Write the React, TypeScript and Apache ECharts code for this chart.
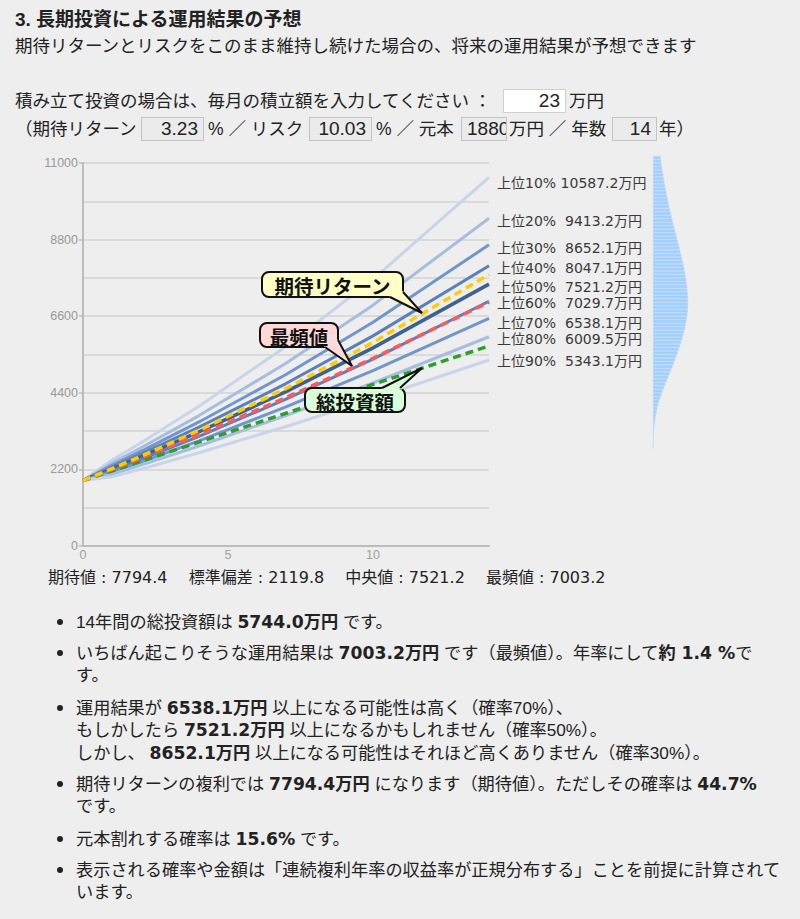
import React, { useEffect, useRef } from 'react';
import * as echarts from 'echarts';

// ---------- data ----------
const years = [0, 1, 2, 4, 7, 10, 14];
const pctNames = ['上位10%', '上位20%', '上位30%', '上位40%', '上位50%', '上位60%', '上位70%', '上位80%', '上位90%'];
const pctFinalText = ['10587.2', '9413.2', '8652.1', '8047.1', '7521.2', '7029.7', '6538.1', '6009.5', '5343.1'];
const p10 = [1880, 2470, 2967, 4016, 5731, 7660, 10587.2];
const p20 = [1880, 2379, 2820, 3746, 5248, 6917, 9413.2];
const p30 = [1880, 2316, 2719, 3563, 4926, 6426, 8652.1];
const p40 = [1880, 2263, 2636, 3414, 4666, 6034, 8047.1];
const p50 = [1880, 2215, 2560, 3280, 4435, 5690, 7521.2];
const p60 = [1880, 2168, 2487, 3151, 4216, 5366, 7029.7];
const p70 = [1880, 2118, 2410, 3019, 3993, 5038, 6538.1];
const p80 = [1880, 2062, 2324, 2872, 3748, 4681, 6009.5];
const p90 = [1880, 1986, 2209, 2679, 3432, 4227, 5343.1];
const expectedLine = [1880, 2223, 2577, 3321, 4525, 5845, 7794.4];
const modeLine = [1880, 2199, 2526, 3199, 4261, 5392, 7003.2];
const investedLine = [1880, 2156, 2432, 2984, 3812, 4640, 5744];

const distBins = [
  2850, 2950, 3050, 3150, 3250, 3350, 3450, 3550, 3650, 3750, 3850, 3950, 4050, 4150, 4250, 4350,
  4450, 4550, 4650, 4750, 4850, 4950, 5050, 5150, 5250, 5350, 5450, 5550, 5650, 5750, 5850, 5950,
  6050, 6150, 6250, 6350, 6450, 6550, 6650, 6750, 6850, 6950, 7050, 7150, 7250, 7350, 7450, 7550,
  7650, 7750, 7850, 7950, 8050, 8150, 8250, 8350, 8450, 8550, 8650, 8750, 8850, 8950, 9050, 9150,
  9250, 9350, 9450, 9550, 9650, 9750, 9850, 9950, 10050, 10150, 10250, 10350, 10450, 10550, 10650,
  10750, 10850, 10950, 11050, 11150,
];
const distDensity = [
  0.2, 0.3, 0.4, 0.6, 0.8, 1.0, 1.4, 1.9, 2.4, 3.0, 3.6, 4.2, 5.1, 6.1, 7.2, 8.4,
  9.7, 11.0, 12.4, 13.8, 15.2, 16.6, 18.0, 19.4, 20.7, 22.0, 23.3, 24.6, 25.8, 27.0, 28.1, 29.2,
  30.2, 31.1, 32.0, 32.7, 33.4, 33.9, 34.4, 34.7, 34.9, 35.0, 35.0, 34.9, 34.7, 34.4, 34.1, 33.6,
  33.1, 32.6, 32.0, 31.3, 30.6, 29.8, 29.0, 28.2, 27.3, 26.5, 25.6, 24.7, 23.8, 23.0, 22.1, 21.2,
  20.3, 19.5, 18.6, 17.8, 17.0, 16.2, 15.5, 14.7, 14.0, 13.3, 12.7, 12.0, 11.4, 10.8, 10.2,
  9.7, 9.1, 8.6, 8.1, 7.7,
];

const yTicks = { min: 0, max: 11000, interval: 2200 };
const xTicks = { min: 0, max: 14, interval: 5 };

const pctSeries = [p10, p20, p30, p40, p50, p60, p70, p80, p90];
const pctColors = ['#c7d5ea', '#a7bde0', '#7096cb', '#5a80bb', '#3d6292', '#5a80bb', '#7096cb', '#a7bde0', '#c7d5ea'];
const labelDy = [6, 2.5, 3.5, 2.5, 2.5, 2, 4.5, 2, 1.5];

const CHART_TOP = 140;

function zip(vals: number[]) {
  return years.map((y, i) => [y, vals[i]]);
}

function callout(
  box: { x: number; y: number; w: number; h: number },
  tail: number[][],
  fillTail: number[][],
  text: string,
  fill: string
) {
  return {
    type: 'group',
    z: 100,
    children: [
      {
        type: 'rect',
        shape: { x: box.x, y: box.y, width: box.w, height: box.h, r: 7 },
        style: { fill, stroke: '#111', lineWidth: 2 },
        z: 100,
      },
      { type: 'polygon', shape: { points: fillTail }, style: { fill, stroke: null }, z: 101 },
      { type: 'polyline', shape: { points: tail }, style: { stroke: '#111', lineWidth: 2, fill: null }, z: 102 },
      {
        type: 'text',
        x: box.x + box.w / 2,
        y: box.y + box.h / 2 + 1,
        z: 103,
        style: {
          text,
          fill: '#111',
          fontSize: 19.5,
          fontWeight: 'bold',
          fontFamily: '"Noto Sans CJK JP"',
          align: 'center',
          verticalAlign: 'middle',
        },
      },
    ],
  };
}

function Chart() {
  const ref = useRef<HTMLDivElement>(null);
  useEffect(() => {
    if (!ref.current) return;
    const chart = echarts.init(ref.current, null, { renderer: 'svg' });
    const gridLine = { color: '#d3d3d3', width: 1.5 };
    const series: any[] = pctSeries.map((vals, i) => ({
      type: 'line',
      name: pctNames[i],
      data: zip(vals),
      xAxisIndex: 0,
      yAxisIndex: 0,
      showSymbol: false,
      symbol: 'none',
      lineStyle: { color: pctColors[i], width: i === 4 ? 3.5 : 3 },
      z: 2,
      endLabel: {
        show: true,
        formatter: pctNames[i] + (i === 0 ? ' ' : '  ') + pctFinalText[i] + '万円',
        color: '#3a3a3a',
        fontSize: 14,
        fontFamily: '"DejaVu Sans", "Noto Sans CJK JP"',
        distance: 8,
        offset: [0, labelDy[i]],
      },
    }));
    const dashed = [
      { vals: investedLine, color: '#2ca02c' },
      { vals: modeLine, color: '#ff5a5a' },
      { vals: expectedLine, color: '#ffcc00' },
    ];
    dashed.forEach((d) =>
      series.push({
        type: 'line',
        data: zip(d.vals),
        showSymbol: false,
        symbol: 'none',
        lineStyle: { color: d.color, width: 3.5, type: [8, 5] },
        z: 3,
      })
    );
    series.push({
      type: 'bar',
      xAxisIndex: 1,
      yAxisIndex: 1,
      data: distDensity,
      barCategoryGap: '0%',
      itemStyle: { color: '#a3cffb', borderColor: '#b8dbfc', borderWidth: 0.5 },
    });

    chart.setOption({
      animation: false,
      backgroundColor: 'transparent',
      grid: [
        { left: 83, top: 23, width: 406, height: 383 },
        { left: 653, top: 16.04, width: 35, height: 292.46 },
      ],
      xAxis: [
        {
          type: 'value',
          gridIndex: 0,
          min: xTicks.min,
          max: xTicks.max,
          interval: xTicks.interval,
          axisLine: { show: true, lineStyle: { color: '#bcbcbc', width: 2 } },
          axisTick: { show: false },
          axisLabel: { color: '#a0a0a0', fontSize: 12.5, margin: 2, showMaxLabel: false, fontFamily: '"Liberation Sans"' },
          splitLine: { show: false },
        },
        { type: 'value', gridIndex: 1, min: 0, max: 35, show: false },
      ],
      yAxis: [
        {
          type: 'value',
          gridIndex: 0,
          min: yTicks.min,
          max: yTicks.max,
          interval: yTicks.interval,
          axisLine: { show: true, lineStyle: { color: '#bcbcbc', width: 2 } },
          axisTick: { show: true, length: 4, lineStyle: { color: '#bcbcbc', width: 1.5 } },
          axisLabel: {
            color: '#999',
            fontSize: 12.5,
            margin: 5,
            fontFamily: '"Liberation Sans"',
            formatter: (v: number) => String(v),
          },
          splitLine: { show: true, lineStyle: gridLine },
          minorTick: { show: false, splitNumber: 2 },
          minorSplitLine: { show: true, lineStyle: gridLine },
        },
        { type: 'category', gridIndex: 1, data: distBins, show: false },
      ],
      series,
      graphic: [
        callout(
          { x: 262, y: 132, w: 141, h: 25 },
          [[390, 157], [422, 173], [403, 152]],
          [[388, 155.5], [422, 173], [401.5, 150]],
          '期待リターン',
          '#ffffc6'
        ),
        callout(
          { x: 260, y: 183, w: 78, h: 24 },
          [[325, 207], [352, 226], [338, 200]],
          [[323, 205.5], [352, 226], [336.5, 198]],
          '最頻値',
          '#ffd8d8'
        ),
        callout(
          { x: 305, y: 248, w: 100, h: 24 },
          [[382, 248], [422, 228], [400, 248]],
          [[380, 249.5], [422, 228], [402, 249.5]],
          '総投資額',
          '#d8fdd8'
        ),
      ],
    });
    return () => chart.dispose();
  }, []);
  return (
    <div
      ref={ref}
      style={{ position: 'absolute', left: 0, top: CHART_TOP, width: 720, height: 430 }}
    />
  );
}

const BODY_FONT = '"Liberation Sans", "Noto Sans CJK JP", sans-serif';
const BOLD_FONT = '"DejaVu Sans", "Noto Sans CJK JP", sans-serif';

function T(props: { x: number; cy: number; size?: number; lh?: number; style?: any; children: any }) {
  const size = props.size ?? 17.5;
  const lh = props.lh ?? 24;
  return (
    <div
      style={{
        position: 'absolute',
        left: props.x,
        top: props.cy - lh / 2,
        fontSize: size,
        lineHeight: lh + 'px',
        whiteSpace: 'pre',
        color: '#222',
        fontFamily: BODY_FONT,
        ...props.style,
      }}
    >
      {props.children}
    </div>
  );
}

function Box(props: { x: number; y: number; w: number; text: string; white?: boolean }) {
  return (
    <div
      style={{
        position: 'absolute',
        left: props.x,
        top: props.y,
        width: props.w,
        height: 24,
        boxSizing: 'border-box',
        border: '1px solid ' + (props.white ? '#d0d0d0' : '#c4c4c4'),
        background: props.white ? '#ffffff' : '#ebebeb',
        overflow: 'hidden',
        textAlign: 'right',
        paddingRight: 5,
        paddingLeft: 5,
        fontFamily: '"Liberation Sans Narrow", "Liberation Sans", sans-serif',
        fontSize: 19,
        lineHeight: '22px',
        color: '#222',
        whiteSpace: 'nowrap',
      }}
    >
      {props.text}
    </div>
  );
}

function B(props: { children: any }) {
  return <span style={{ fontWeight: 'bold', fontFamily: BOLD_FONT }}>{props.children}</span>;
}

function Bullet(props: { cy: number; lines: any[] }) {
  const lh = 22.5;
  return (
    <>
      <div
        style={{
          position: 'absolute',
          left: 57,
          top: props.cy - 3,
          width: 6,
          height: 6,
          borderRadius: 3,
          background: '#222',
        }}
      />
      <div
        style={{
          position: 'absolute',
          left: 76,
          top: props.cy - lh / 2,
          fontSize: 17.2,
          lineHeight: lh + 'px',
          whiteSpace: 'pre',
          color: '#222',
          fontFamily: BODY_FONT,
        }}
      >
        {props.lines.map((l, i) => (
          <div key={i}>{l}</div>
        ))}
      </div>
    </>
  );
}

export default function App() {
  return (
    <div
      style={{
        position: 'fixed',
        left: 0,
        top: 0,
        width: 800,
        height: 919,
        background: '#eeeeee',
        overflow: 'hidden',
      }}
    >
      <T x={15} cy={20} size={19} style={{ fontWeight: 'bold' }}>
        3. 長期投資による運用結果の予想
      </T>
      <T x={15} cy={46}>期待リターンとリスクをこのまま維持し続けた場合の、将来の運用結果が予想できます</T>
      <T x={15} cy={101}>積み立て投資の場合は、毎月の積立額を入力してください ：</T>
      <Box x={503} y={89} w={63} text="23" white />
      <T x={569} cy={101}>万円</T>
      <T x={15} cy={129}>（期待リターン</T>
      <Box x={141} y={117} w={63} text="3.23" />
      <T x={208} cy={129}>% ／ リスク</T>
      <Box x={309} y={117} w={63} text="10.03" />
      <T x={376} cy={129}>% ／ 元本</T>
      <Box x={461} y={117} w={46} text="1880" />
      <T x={509} cy={129}>万円 ／ 年数</T>
      <Box x={612} y={117} w={45} text="14" />
      <T x={659} cy={129}>年）</T>

      <Chart />

      <T x={48} cy={578} size={16} style={{ fontFamily: BOLD_FONT }}>
        {'期待値 : 7794.4　 標準偏差 : 2119.8　 中央値 : 7521.2　 最頻値 : 7003.2'}
      </T>

      <Bullet cy={622} lines={[<>14年間の総投資額は <B>5744.0万円</B> です。</>]} />
      <Bullet
        cy={653}
        lines={[
          <>いちばん起こりそうな運用結果は <B>7003.2万円</B> です（最頻値）。年率にして<B>約 1.4 %</B>で</>,
          <>す。</>,
        ]}
      />
      <Bullet
        cy={708}
        lines={[
          <>運用結果が <B>6538.1万円</B> 以上になる可能性は高く（確率70%）、</>,
          <>もしかしたら <B>7521.2万円</B> 以上になるかもしれません（確率50%）。</>,
          <>しかし、 <B>8652.1万円</B> 以上になる可能性はそれほど高くありません（確率30%）。</>,
        ]}
      />
      <Bullet
        cy={784}
        lines={[
          <>期待リターンの複利では <B>7794.4万円</B> になります（期待値）。ただしその確率は <B>44.7%</B></>,
          <>です。</>,
        ]}
      />
      <Bullet cy={839} lines={[<>元本割れする確率は <B>15.6%</B> です。</>]} />
      <Bullet
        cy={870}
        lines={[
          <>表示される確率や金額は「連続複利年率の収益率が正規分布する」ことを前提に計算されて</>,
          <>います。</>,
        ]}
      />
    </div>
  );
}
